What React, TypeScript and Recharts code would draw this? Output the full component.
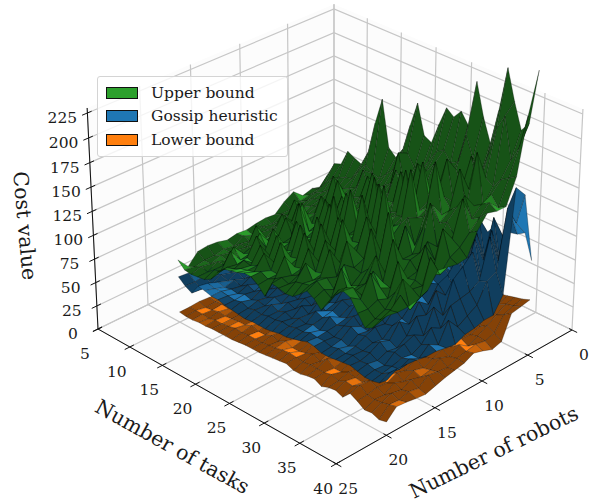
import React from "react"
import { Scatter, ScatterChart, XAxis, YAxis } from "recharts"

const TASKS = [10, 11, 12, 13, 14, 15, 16, 17, 18, 19, 20, 21, 22, 23, 24, 25, 26, 27, 28, 29, 30, 31, 32, 33, 34, 35, 36, 37, 38, 39, 40]
const ROBOTS = [5, 6, 7, 8, 9, 10, 11, 12, 13, 14, 15, 16, 17, 18, 19, 20]

const TASK_TICKS = [5, 10, 15, 20, 25, 30, 35, 40]
const ROBOT_TICKS = [0, 5, 10, 15, 20, 25]
const COST_TICKS = [0, 25, 50, 75, 100, 125, 150, 175, 200, 225]
const COST_TOP = 230

// one row per robot count, one column per task count
const UPPER = [
  [72, 89, 104, 107, 124, 120, 117, 133, 167, 195, 148, 141, 153, 181, 207, 177, 173, 195, 215, 209, 218, 207, 254, 222, 199, 235, 280, 250, 225, 235, 290],
  [75, 78, 88, 96, 100, 104, 106, 118, 128, 122, 120, 128, 136, 150, 160, 148, 150, 162, 175, 180, 170, 175, 205, 185, 170, 195, 225, 240, 200, 215, 250],
  [72, 76, 82, 86, 92, 96, 100, 104, 108, 130, 112, 118, 124, 130, 165, 132, 140, 150, 160, 170, 150, 165, 175, 155, 195, 165, 180, 175, 185, 190, 195],
  [81, 74, 78, 84, 86, 90, 118, 96, 102, 106, 110, 135, 118, 122, 128, 155, 135, 140, 172, 150, 145, 160, 190, 150, 165, 170, 210, 160, 175, 165, 170],
  [75, 70, 76, 80, 84, 88, 92, 94, 125, 102, 106, 112, 116, 150, 122, 128, 130, 165, 135, 140, 185, 150, 155, 160, 150, 195, 160, 165, 170, 175, 170],
  [66, 70, 72, 92, 78, 84, 88, 110, 94, 98, 120, 106, 112, 116, 118, 150, 124, 128, 132, 178, 138, 144, 150, 200, 150, 158, 165, 180, 160, 165, 173],
  [67, 64, 70, 72, 78, 100, 82, 86, 90, 118, 98, 102, 135, 110, 114, 120, 165, 125, 130, 136, 140, 190, 145, 150, 165, 150, 155, 145, 185, 155, 160],
  [66, 66, 66, 74, 90, 76, 84, 112, 86, 92, 94, 125, 102, 106, 150, 114, 118, 122, 170, 130, 134, 140, 150, 125, 145, 175, 135, 140, 150, 145, 138],
  [64, 62, 68, 66, 72, 76, 98, 82, 120, 88, 92, 96, 100, 145, 106, 112, 116, 160, 124, 128, 180, 130, 120, 150, 125, 130, 145, 130, 165, 140, 137],
  [65, 66, 64, 84, 70, 74, 78, 80, 84, 110, 90, 94, 125, 100, 104, 135, 112, 118, 120, 150, 118, 122, 165, 120, 125, 128, 120, 150, 125, 128, 139],
  [63, 60, 66, 66, 72, 88, 76, 100, 82, 84, 88, 118, 94, 98, 130, 104, 110, 145, 114, 120, 116, 150, 118, 112, 150, 115, 118, 120, 118, 150, 141],
  [66, 62, 62, 68, 68, 72, 94, 78, 80, 105, 88, 90, 92, 122, 96, 100, 125, 104, 110, 135, 112, 110, 118, 135, 112, 110, 140, 112, 120, 115, 126],
  [67, 60, 64, 62, 80, 70, 76, 74, 96, 82, 86, 110, 88, 92, 94, 118, 98, 100, 128, 104, 120, 102, 106, 112, 128, 115, 108, 118, 135, 108, 122],
  [66, 60, 60, 66, 66, 84, 74, 82, 80, 84, 100, 86, 86, 108, 92, 96, 112, 98, 104, 108, 100, 125, 104, 110, 108, 135, 112, 106, 110, 128, 120],
  [55, 58, 62, 60, 66, 68, 76, 78, 82, 84, 86, 90, 86, 90, 95, 92, 98, 100, 102, 110, 105, 100, 112, 118, 122, 114, 108, 102, 105, 118, 120],
  [67, 60, 59, 60, 61, 65, 76, 83, 85, 87, 90, 90, 85, 77, 94, 93, 91, 92, 98, 105, 101, 93, 104, 116, 124, 121, 109, 98, 102, 114, 122],
]

const GOSSIP = [
  [46, 50, 52, 55, 56, 58, 60, 62, 64, 66, 68, 70, 72, 75, 76, 80, 82, 85, 88, 92, 94, 98, 100, 105, 108, 118, 112, 118, 120, 125, 100],
  [44, 48, 47, 52, 50, 55, 54, 60, 58, 63, 62, 68, 66, 72, 70, 78, 76, 83, 84, 88, 90, 92, 100, 92, 128, 86, 135, 92, 150, 140, 172],
  [47, 44, 50, 48, 54, 52, 58, 55, 62, 60, 66, 63, 70, 68, 75, 72, 80, 78, 85, 84, 92, 90, 88, 100, 90, 120, 96, 130, 102, 160, 184],
  [43, 47, 45, 51, 49, 55, 51, 57, 56, 63, 58, 67, 62, 72, 66, 76, 71, 82, 76, 88, 80, 80, 88, 78, 105, 82, 122, 86, 132, 100, 80],
  [46, 43, 49, 46, 52, 48, 55, 52, 60, 55, 62, 59, 66, 62, 70, 66, 76, 70, 80, 76, 86, 82, 80, 90, 82, 105, 86, 118, 92, 95, 64],
  [41, 46, 44, 50, 46, 53, 49, 56, 53, 58, 56, 64, 60, 67, 63, 72, 67, 76, 71, 72, 76, 72, 82, 80, 76, 92, 80, 108, 86, 76, 64],
  [45, 41, 48, 44, 50, 46, 52, 50, 57, 52, 60, 55, 61, 58, 66, 60, 70, 64, 68, 76, 70, 80, 74, 78, 85, 88, 80, 100, 84, 70, 61],
  [40, 45, 42, 47, 44, 50, 47, 55, 49, 56, 51, 58, 57, 64, 58, 68, 62, 66, 72, 65, 75, 68, 68, 74, 78, 72, 90, 68, 82, 64, 60],
  [44, 40, 46, 42, 49, 44, 51, 46, 53, 49, 58, 53, 60, 54, 62, 58, 64, 69, 62, 70, 64, 72, 71, 68, 74, 80, 70, 82, 64, 76, 55],
  [39, 44, 41, 46, 42, 48, 44, 52, 47, 55, 50, 54, 52, 61, 56, 60, 66, 58, 64, 60, 68, 58, 62, 70, 64, 62, 74, 58, 70, 56, 57],
  [43, 39, 45, 41, 47, 43, 50, 45, 51, 48, 53, 50, 58, 52, 57, 52, 55, 62, 59, 66, 60, 62, 68, 60, 62, 70, 59, 64, 58, 62, 59],
  [38, 42, 40, 45, 41, 47, 43, 48, 45, 50, 47, 52, 49, 54, 50, 58, 52, 56, 53, 56, 62, 55, 54, 62, 53, 56, 52, 60, 53, 53, 59],
  [44, 39, 43, 40, 45, 42, 47, 44, 49, 45, 49, 46, 51, 48, 55, 50, 57, 54, 59, 54, 57, 60, 56, 58, 55, 60, 54, 57, 55, 58, 61],
  [42, 44, 38, 44, 42, 44, 43, 46, 44, 47, 45, 50, 47, 50, 47, 51, 49, 52, 50, 53, 51, 52, 49, 53, 52, 54, 50, 49, 52, 53, 62],
  [48, 42, 38, 48, 46, 47, 46, 45, 47, 44, 46, 45, 47, 47, 49, 48, 50, 50, 53, 52, 52, 50, 52, 51, 53, 51, 52, 50, 50, 55, 63],
  [49, 43, 39, 50, 49, 47, 47, 45, 44, 43, 42, 43, 43, 43, 44, 46, 46, 48, 50, 53, 52, 49, 49, 50, 51, 52, 50, 48, 48, 50, 57],
]

const LOWER = [
  [17, 18, 19, 20, 21, 22, 23, 24, 25, 26, 27, 29, 30, 31, 32, 34, 35, 36, 37, 38, 40, 42, 43, 45, 46, 48, 50, 52, 54, 56, 59],
  [15, 16, 17, 19, 18, 20, 20, 23, 22, 24, 26, 25, 28, 27, 31, 30, 33, 32, 36, 35, 38, 37, 41, 40, 44, 43, 47, 48, 52, 54, 57],
  [14, 17, 16, 17, 19, 18, 22, 20, 25, 22, 23, 28, 26, 31, 28, 30, 35, 31, 33, 38, 35, 41, 37, 39, 44, 41, 43, 50, 46, 50, 55],
  [14, 13, 15, 14, 16, 20, 17, 19, 20, 23, 21, 22, 27, 24, 25, 30, 27, 33, 29, 31, 36, 32, 34, 40, 35, 38, 34, 35, 40, 36, 31],
  [13, 15, 13, 16, 15, 16, 19, 17, 18, 21, 24, 20, 22, 26, 23, 25, 31, 26, 28, 33, 29, 36, 31, 33, 37, 32, 36, 32, 34, 33, 28],
  [12, 12, 15, 13, 14, 15, 15, 18, 16, 17, 19, 23, 20, 21, 27, 22, 24, 29, 25, 27, 32, 28, 30, 36, 29, 34, 30, 33, 29, 35, 32],
  [14, 12, 12, 15, 13, 14, 17, 15, 20, 16, 17, 19, 24, 20, 21, 26, 22, 23, 30, 25, 26, 31, 27, 30, 33, 29, 35, 30, 36, 33, 35],
  [11, 13, 11, 12, 16, 13, 14, 18, 15, 19, 16, 18, 19, 23, 19, 20, 27, 22, 23, 28, 24, 26, 32, 25, 27, 32, 27, 33, 29, 31, 30],
  [12, 11, 14, 11, 13, 15, 13, 14, 17, 15, 22, 16, 17, 20, 25, 19, 21, 25, 21, 22, 29, 24, 25, 28, 25, 30, 26, 28, 33, 27, 28],
  [10, 12, 11, 13, 11, 12, 16, 13, 14, 20, 15, 18, 16, 18, 20, 24, 18, 20, 27, 21, 22, 25, 23, 29, 24, 23, 30, 24, 26, 28, 26],
  [12, 10, 12, 11, 14, 12, 13, 17, 14, 15, 18, 16, 21, 17, 18, 20, 25, 19, 20, 26, 21, 23, 28, 22, 26, 28, 23, 27, 24, 30, 23],
  [10, 11, 10, 12, 11, 15, 12, 14, 19, 14, 15, 20, 16, 18, 23, 17, 19, 23, 18, 20, 27, 20, 22, 26, 21, 20, 26, 21, 27, 22, 20],
  [11, 10, 11, 10, 13, 12, 16, 13, 14, 16, 15, 16, 22, 16, 18, 20, 26, 18, 22, 19, 21, 25, 20, 23, 24, 27, 21, 25, 22, 24, 21],
  [12, 9, 10, 12, 11, 12, 13, 13, 16, 14, 14, 17, 15, 19, 16, 16, 18, 21, 17, 24, 18, 18, 22, 20, 19, 25, 22, 18, 24, 21, 23],
  [11, 11, 11, 10, 12, 12, 13, 15, 14, 15, 15, 15, 16, 17, 19, 20, 19, 18, 19, 19, 19, 21, 18, 22, 21, 26, 20, 19, 20, 22, 24],
  [11, 10, 10, 11, 11, 12, 12, 12, 12, 13, 14, 14, 14, 15, 16, 17, 18, 15, 15, 17, 18, 14, 17, 18, 15, 23, 19, 14, 15, 12, 14],
]

const LEGEND = [
  { name: "Upper bound", color: "#2ca02c" },
  { name: "Gossip heuristic", color: "#1f77b4" },
  { name: "Lower bound", color: "#ff7f0e" },
]

const FONT = "'DejaVu Serif', serif"

// camera fitted to the box corners, gives the chart's x/y for a (tasks, robots, cost) point
function project(t: number, r: number, z: number) {
  const u = (t - 5) / 35
  const v = r / 25
  const w = z / 225
  const d = 1 - 0.07 * u - 0.07 * v - 0.04 * w
  return {
    px: (334 + 197.96 * u - 242.86 * v - 13.36 * w) / d,
    py: (214 + 92.9 * u + 91.97 * v - 205.4 * w) / d,
  }
}

function hexToRgb(hex: string) {
  return [1, 3, 5].map((i) => parseInt(hex.slice(i, i + 2), 16))
}

function shadeOf(color: number[], t: number[], r: number[], z: number[]) {
  // diagonals of the quad, horizontal units shrunk so small bumps still catch the light
  const k = 0.4
  const a = [(t[2] - t[0]) * k, (r[2] - r[0]) * k, z[2] - z[0]]
  const b = [(t[3] - t[1]) * k, (r[3] - r[1]) * k, z[3] - z[1]]
  const n = [a[1] * b[2] - a[2] * b[1], a[2] * b[0] - a[0] * b[2], a[0] * b[1] - a[1] * b[0]]
  const len = Math.hypot(n[0], n[1], n[2]) || 1
  const sign = n[2] < 0 ? -1 : 1
  const dot = (sign * (-0.3 * n[0] - 1.2 * n[1] + 0.3 * n[2])) / (len * 1.27)
  const f = 0.52 + 0.48 * Math.pow(Math.max(0, dot + 0.05), 1.2)
  return `rgb(${color.map((c) => Math.round(c * Math.min(f, 1))).join(",")})`
}

function Mesh({ points, heights, baseColor }: any) {
  const nr = heights.length
  const nt = heights[0].length
  const rgb = hexToRgb(baseColor)
  const quads: { key: number; d: string; fill: string }[] = []
  for (let i = 0; i < nr - 1; i++) {
    for (let j = 0; j < nt - 1; j++) {
      const idx = [i * nt + j, i * nt + j + 1, (i + 1) * nt + j + 1, (i + 1) * nt + j]
      const corners = idx.map((k) => points[k])
      const ts = [TASKS[j], TASKS[j + 1], TASKS[j + 1], TASKS[j]]
      const rs = [ROBOTS[i], ROBOTS[i], ROBOTS[i + 1], ROBOTS[i + 1]]
      const zs = [heights[i][j], heights[i][j + 1], heights[i + 1][j + 1], heights[i + 1][j]]
      const depth = (TASKS[j] - 5) / 35 + ROBOTS[i] / 25 + (zs[0] + zs[1] + zs[2] + zs[3]) / 4 / 900
      quads.push({
        key: depth,
        d: "M" + corners.map((p: any) => `${p.x.toFixed(1)},${p.y.toFixed(1)}`).join("L") + "Z",
        fill: shadeOf(rgb, ts, rs, zs),
      })
    }
  }
  quads.sort((a, b) => a.key - b.key)
  return (
    <g>
      {quads.map((q, i) => (
        <path key={i} d={q.d} fill={q.fill} stroke="#000" strokeOpacity={0.75} strokeWidth={0.35} strokeLinejoin="round" />
      ))}
    </g>
  )
}

// draws the series points as separate polylines of `size` points each
function Polylines({ points, size, lineColor, lineWidth, paneFill }: any) {
  const paths = []
  for (let i = 0; i < points.length; i += size) {
    const part = points.slice(i, i + size)
    paths.push("M" + part.map((p: any) => `${p.x},${p.y}`).join("L") + (paneFill ? "Z" : ""))
  }
  return (
    <g>
      {paths.map((d, i) => (
        <path key={i} d={d} fill={paneFill || "none"} stroke={lineColor || "none"} strokeWidth={lineWidth} />
      ))}
    </g>
  )
}

const NoPoint = () => null

function Label(props: any) {
  const { cx, cy, payload } = props
  return (
    <text
      x={cx + payload.dx}
      y={cy + payload.dy}
      textAnchor="middle"
      dominantBaseline="central"
      fontFamily={FONT}
      fontSize={payload.size}
      fill="#1a1a1a"
      transform={payload.angle ? `rotate(${payload.angle} ${cx + payload.dx} ${cy + payload.dy})` : undefined}
    >
      {payload.text}
    </text>
  )
}

const surface = (heights: number[][]) =>
  ROBOTS.flatMap((r, i) => TASKS.map((t, j) => project(t, r, heights[i][j])))

const panes = [
  project(5, 25, 0), project(40, 25, 0), project(40, 0, 0), project(5, 0, 0),
  project(5, 25, 0), project(5, 0, 0), project(5, 0, COST_TOP), project(5, 25, COST_TOP),
  project(5, 0, 0), project(40, 0, 0), project(40, 0, COST_TOP), project(5, 0, COST_TOP),
]

const grid = [
  ...TASK_TICKS.flatMap((t) => [project(t, 25, 0), project(t, 0, 0), project(t, 0, COST_TOP)]),
  ...ROBOT_TICKS.flatMap((r) => [project(40, r, 0), project(5, r, 0), project(5, r, COST_TOP)]),
  ...COST_TICKS.flatMap((z) => [project(5, 25, z), project(5, 0, z), project(40, 0, z)]),
]

const axes = [
  project(5, 25, 0), project(40, 25, 0),
  project(40, 25, 0), project(40, 0, 0),
  project(5, 25, 0), project(5, 25, COST_TOP),
  ...TASK_TICKS.flatMap((t) => [project(t, 24.6, 0), project(t, 25.5, 0)]),
  ...ROBOT_TICKS.flatMap((r) => [project(39.6, r, 0), project(40.7, r, 0)]),
  ...COST_TICKS.flatMap((z) => [project(5, 24.6, z), project(5, 25.5, z)]),
]

const labels = [
  ...TASK_TICKS.map((t) => ({ ...project(t, 25, 0), text: String(t), dx: -13, dy: 25, size: 15.5, angle: 0 })),
  ...ROBOT_TICKS.map((r) => ({ ...project(40, r, 0), text: String(r), dx: 12, dy: 25, size: 15.5, angle: 0 })),
  ...COST_TICKS.map((z) => ({ ...project(5, 25, z), text: String(z), dx: -25, dy: 5, size: 15.5, angle: 0 })),
  { ...project(5, 25, 110), text: "Cost value", dx: -68, dy: 0, size: 20.5, angle: 85 },
  { ...project(22.5, 25, 0), text: "Number of tasks", dx: -40, dy: 53, size: 20.5, angle: 29 },
  { ...project(40, 12.5, 0), text: "Number of robots", dx: 35, dy: 58, size: 20.5, angle: -26 },
]

function ChartLegend() {
  return (
    <div
      style={{
        position: "absolute",
        left: 97,
        top: 76,
        width: 191,
        height: 81,
        boxSizing: "border-box",
        background: "rgba(255,255,255,0.8)",
        border: "1px solid #d4d4d4",
        borderRadius: 3,
        fontFamily: FONT,
        fontSize: 15.5,
        color: "#1a1a1a",
      }}
    >
      {LEGEND.map((item, i) => (
        <div key={item.name} style={{ position: "absolute", left: 8, top: 10 + i * 23.3, height: 12, display: "flex", alignItems: "center", whiteSpace: "nowrap" }}>
          <span style={{ width: 32, height: 12, boxSizing: "border-box", background: item.color, border: "1px solid #111", marginRight: 13 }} />
          {item.name}
        </div>
      ))}
    </div>
  )
}

export default function App() {
  return (
    <div style={{ position: "absolute", left: 0, top: 0, width: 600, height: 503, background: "#fff" }}>
      <ScatterChart width={600} height={503} margin={{ top: 0, right: 0, bottom: 0, left: 0 }}>
        <XAxis dataKey="px" type="number" domain={[0, 600]} allowDataOverflow hide />
        <YAxis dataKey="py" type="number" domain={[0, 503]} reversed allowDataOverflow hide />
        <Scatter data={panes} isAnimationActive={false} shape={NoPoint} line={<Polylines size={4} paneFill="#fcfcfc" />} />
        <Scatter data={grid} isAnimationActive={false} shape={NoPoint} line={<Polylines size={3} lineColor="#c6c6c6" lineWidth={1.2} />} />
        <Scatter data={axes} isAnimationActive={false} shape={NoPoint} line={<Polylines size={2} lineColor="#111" lineWidth={1} />} />
        <Scatter data={surface(LOWER)} isAnimationActive={false} shape={NoPoint} line={<Mesh heights={LOWER} baseColor="#ff7f0e" />} />
        <Scatter data={surface(GOSSIP)} isAnimationActive={false} shape={NoPoint} line={<Mesh heights={GOSSIP} baseColor="#1f77b4" />} />
        <Scatter data={surface(UPPER)} isAnimationActive={false} shape={NoPoint} line={<Mesh heights={UPPER} baseColor="#2ca02c" />} />
        <Scatter data={labels} isAnimationActive={false} shape={Label} />
      </ScatterChart>
      <ChartLegend />
    </div>
  )
}
